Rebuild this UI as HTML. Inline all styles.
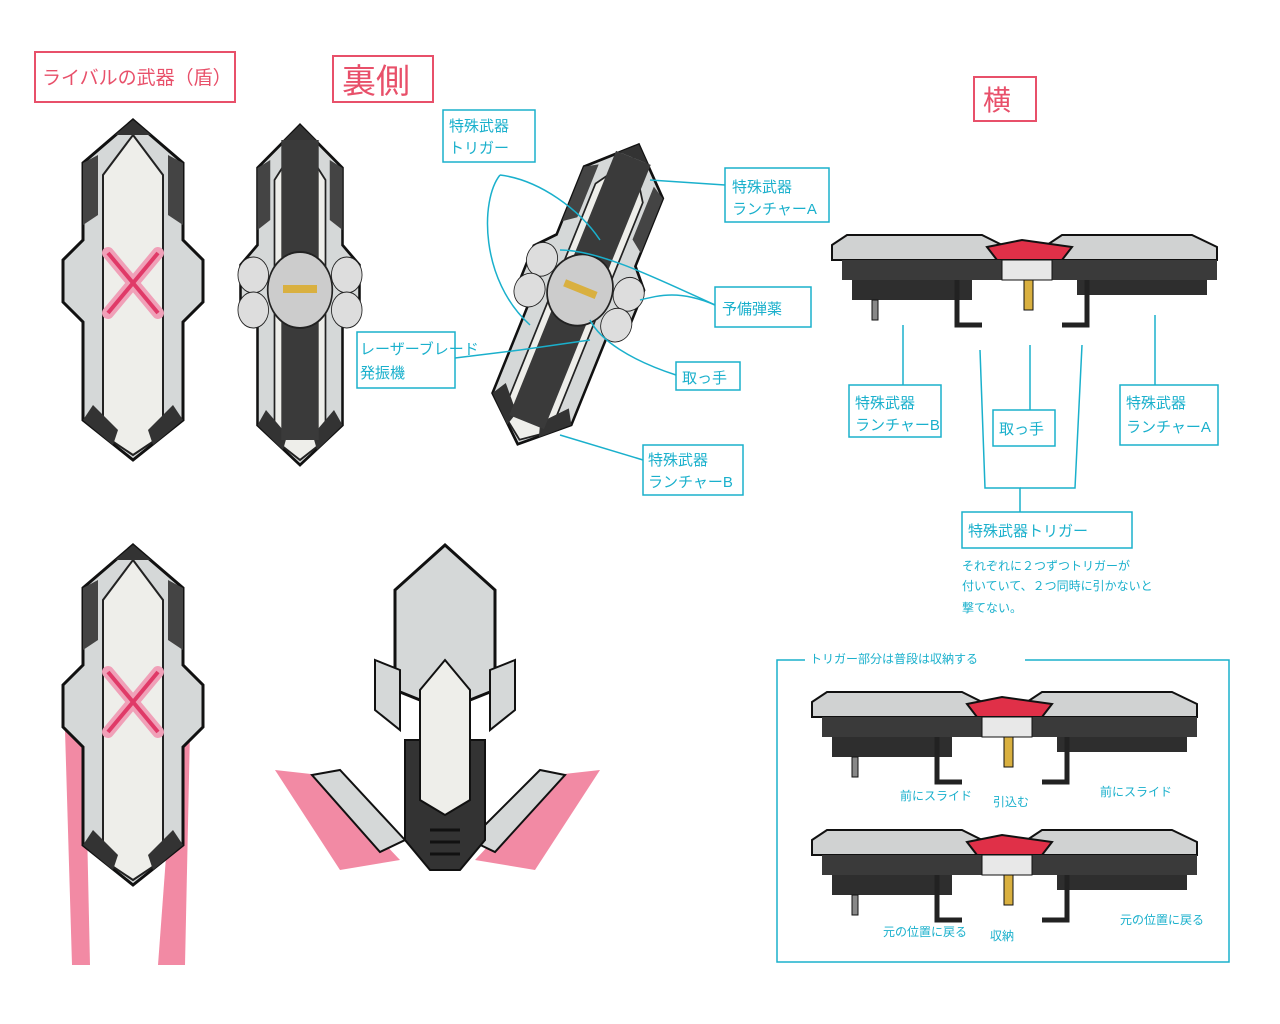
<!DOCTYPE html>
<html><head><meta charset="utf-8"><style>
html,body{margin:0;padding:0;background:#fff;width:1280px;height:1024px;overflow:hidden}
svg text{font-family:"Liberation Sans","Noto Sans CJK JP",sans-serif}
.c{fill:#1ab0cc;font-size:15px}
.cs{fill:#1ab0cc;font-size:12px}
.p{fill:#e8506a}
</style></head><body>
<svg width="1280" height="1024" viewBox="0 0 1280 1024" xmlns="http://www.w3.org/2000/svg">
<defs>
<g id="shield">
<polygon points="0,-165 50,-122 50,-45 70,-25 70,17 50,37 50,135 0,175 -50,135 -50,37 -70,17 -70,-25 -50,-45 -50,-122" fill="#d5d8d8" stroke="#111" stroke-width="3"/>
<polygon points="0,-150 30,-110 30,150 0,170 -30,150 -30,-110" fill="#eeeeea" stroke="#222" stroke-width="2"/>
<polygon points="0,-165 18,-150 -18,-150" fill="#333"/>
<polygon points="35,-130 50,-122 50,-60 35,-70" fill="#444"/>
<polygon points="-35,-130 -50,-122 -50,-60 -35,-70" fill="#444"/>
<polygon points="40,120 50,135 20,160 15,145" fill="#333"/>
<polygon points="-40,120 -50,135 -20,160 -15,145" fill="#333"/>
</g>
<g id="side">
<polygon points="0,10 15,0 150,0 170,10 175,25 0,25" fill="#d0d2d2" stroke="#111" stroke-width="2"/>
<polygon points="215,10 230,0 360,0 385,12 385,25 215,25" fill="#d0d2d2" stroke="#111" stroke-width="2"/>
<polygon points="155,12 190,5 240,12 230,25 165,25" fill="#e03048" stroke="#111" stroke-width="2"/>
<rect x="10" y="25" width="375" height="20" fill="#3a3a3a"/>
<rect x="20" y="45" width="120" height="20" fill="#2e2e2e"/>
<rect x="245" y="45" width="130" height="15" fill="#2e2e2e"/>
<rect x="170" y="25" width="50" height="20" fill="#e8e8e8" stroke="#111"/>
<rect x="192" y="45" width="9" height="30" fill="#d9b040" stroke="#111"/>
<rect x="40" y="65" width="6" height="20" fill="#888" stroke="#111"/>
<path d="M125 45 L125 90 L150 90" fill="none" stroke="#222" stroke-width="5"/>
<path d="M255 45 L255 90 L230 90" fill="none" stroke="#222" stroke-width="5"/>
</g>
</defs>
<rect width="1280" height="1024" fill="#fff"/>

<rect x="35" y="52" width="200" height="50" fill="none" stroke="#e8506a" stroke-width="2"/>
<text x="42" y="84" class="p" font-size="19">ライバルの武器（盾）</text>
<rect x="333" y="56" width="100" height="46" fill="none" stroke="#e8506a" stroke-width="2"/>
<text x="342" y="93" class="p" font-size="34">裏側</text>
<rect x="974" y="77" width="62" height="44" fill="none" stroke="#e8506a" stroke-width="2"/>
<text x="983" y="110" class="p" font-size="28">横</text>

<use href="#shield" transform="translate(133,285)"/>
<g transform="translate(133,283)" stroke="#f0a0b8" stroke-width="12" stroke-linecap="round"><line x1="-25" y1="-30" x2="25" y2="30"/><line x1="25" y1="-30" x2="-25" y2="30"/></g>
<g transform="translate(133,283)" stroke="#e03a68" stroke-width="4"><line x1="-25" y1="-30" x2="25" y2="30"/><line x1="25" y1="-30" x2="-25" y2="30"/></g>

<g transform="translate(300,290) scale(0.85,1)">
<use href="#shield"/>
<rect x="-22" y="-150" width="44" height="130" fill="#3a3a3a"/>
<rect x="-22" y="20" width="44" height="130" fill="#3a3a3a"/>
<circle cx="0" cy="0" r="38" fill="#ccc" stroke="#222" stroke-width="2"/>
<circle cx="-55" cy="-15" r="18" fill="#ddd" stroke="#222"/><circle cx="55" cy="-15" r="18" fill="#ddd" stroke="#222"/>
<circle cx="-55" cy="20" r="18" fill="#ddd" stroke="#222"/><circle cx="55" cy="20" r="18" fill="#ddd" stroke="#222"/>
<rect x="-20" y="-5" width="40" height="8" fill="#d9b040"/>
</g>

<g transform="translate(580,290) rotate(22) scale(0.85,0.95)">
<use href="#shield"/>
<rect x="-22" y="-150" width="44" height="130" fill="#3a3a3a"/>
<rect x="-22" y="20" width="44" height="130" fill="#3a3a3a"/>
<circle cx="0" cy="0" r="38" fill="#ccc" stroke="#222" stroke-width="2"/>
<circle cx="-55" cy="-15" r="18" fill="#ddd" stroke="#222"/><circle cx="55" cy="-15" r="18" fill="#ddd" stroke="#222"/>
<circle cx="-55" cy="20" r="18" fill="#ddd" stroke="#222"/><circle cx="55" cy="20" r="18" fill="#ddd" stroke="#222"/>
<rect x="-20" y="-5" width="40" height="8" fill="#d9b040"/>
</g>

<g fill="none" stroke="#1ab0cc" stroke-width="1.5">
<rect x="443" y="110" width="92" height="52"/>
<rect x="357" y="332" width="98" height="56"/>
<rect x="725" y="168" width="104" height="54"/>
<rect x="715" y="287" width="96" height="40"/>
<rect x="676" y="362" width="64" height="28"/>
<rect x="643" y="445" width="100" height="50"/>
<path d="M500 175 C480 200,480 280,530 325"/>
<path d="M500 175 C540 180,580 210,600 240"/>
<path d="M455 358 L520 350 L590 340"/>
<path d="M725 185 L650 180"/>
<path d="M715 305 C660 280,600 250,560 250"/>
<path d="M715 305 C680 290,660 295,640 300"/>
<path d="M676 375 C630 360,600 340,590 320"/>
<path d="M643 460 L560 435"/>
</g>
<text x="449" y="131" class="c">特殊武器</text><text x="449" y="153" class="c">トリガー</text>
<text x="360" y="354" class="c" font-size="13">レーザーブレード</text><text x="360" y="378" class="c">発振機</text>
<text x="732" y="192" class="c">特殊武器</text><text x="732" y="214" class="c">ランチャーA</text>
<text x="722" y="314" class="c" font-size="18">予備弾薬</text>
<text x="682" y="383" class="c">取っ手</text>
<text x="648" y="465" class="c">特殊武器</text><text x="648" y="487" class="c">ランチャーB</text>

<use href="#side" transform="translate(832,235)"/>
<g fill="none" stroke="#1ab0cc" stroke-width="1.5">
<rect x="849" y="385" width="92" height="52"/>
<rect x="993" y="410" width="62" height="36"/>
<rect x="1120" y="385" width="98" height="60"/>
<rect x="962" y="512" width="170" height="36"/>
<path d="M903 385 L903 325"/><path d="M1030 410 L1030 345"/><path d="M1155 385 L1155 315"/>
<path d="M1020 512 L1020 488 L985 488 L980 350"/><path d="M1020 488 L1075 488 L1082 345"/>
<rect x="777" y="660" width="452" height="302"/>
</g>
<text x="855" y="408" class="c">特殊武器</text><text x="855" y="430" class="c">ランチャーB</text>
<text x="999" y="434" class="c">取っ手</text>
<text x="1126" y="408" class="c">特殊武器</text><text x="1126" y="432" class="c">ランチャーA</text>
<text x="968" y="536" class="c" font-size="18">特殊武器トリガー</text>
<text x="962" y="570" class="cs">それぞれに２つずつトリガーが</text>
<text x="962" y="590" class="cs">付いていて、２つ同時に引かないと</text>
<text x="962" y="612" class="cs" font-size="16">撃てない。</text>
<rect x="805" y="648" width="220" height="20" fill="#fff"/>
<text x="810" y="663" class="cs" font-size="14">トリガー部分は普段は収納する</text>

<use href="#side" transform="translate(812,692)"/>
<use href="#side" transform="translate(812,830)"/>
<text x="900" y="800" class="cs">前にスライド</text><text x="993" y="806" class="cs">引込む</text><text x="1100" y="796" class="cs">前にスライド</text>
<text x="883" y="936" class="cs">元の位置に戻る</text><text x="990" y="940" class="cs">収納</text><text x="1120" y="924" class="cs">元の位置に戻る</text>

<polygon points="65,730 85,735 90,965 72,965" fill="#f28aa4"/>
<polygon points="175,735 190,730 185,965 158,965" fill="#f28aa4"/>
<use href="#shield" transform="translate(133,710)"/>
<g transform="translate(133,702)" stroke="#f0a0b8" stroke-width="12" stroke-linecap="round"><line x1="-25" y1="-30" x2="25" y2="30"/><line x1="25" y1="-30" x2="-25" y2="30"/></g>
<g transform="translate(133,702)" stroke="#e03a68" stroke-width="4"><line x1="-25" y1="-30" x2="25" y2="30"/><line x1="25" y1="-30" x2="-25" y2="30"/></g>

<polygon points="275,770 320,775 400,860 340,870" fill="#f28aa4"/>
<polygon points="600,770 555,775 475,860 535,870" fill="#f28aa4"/>
<polygon points="312,775 340,770 405,840 380,852" fill="#d5d8d8" stroke="#111" stroke-width="2"/>
<polygon points="565,775 540,770 470,840 495,852" fill="#d5d8d8" stroke="#111" stroke-width="2"/>
<polygon points="445,545 495,590 495,690 470,700 420,700 395,690 395,590" fill="#d5d8d8" stroke="#111" stroke-width="3"/>
<polygon points="375,660 400,670 400,730 375,710" fill="#d5d8d8" stroke="#111" stroke-width="2"/>
<polygon points="515,660 490,670 490,730 515,710" fill="#d5d8d8" stroke="#111" stroke-width="2"/>
<polygon points="405,740 485,740 485,840 460,870 430,870 405,840" fill="#333" stroke="#111" stroke-width="2"/>
<polygon points="445,660 470,690 470,800 445,815 420,800 420,690" fill="#eeeeea" stroke="#111" stroke-width="2"/>
<g stroke="#111" stroke-width="3"><line x1="430" y1="830" x2="460" y2="830"/><line x1="430" y1="842" x2="460" y2="842"/><line x1="430" y1="854" x2="460" y2="854"/></g>
</svg>
</body></html>
